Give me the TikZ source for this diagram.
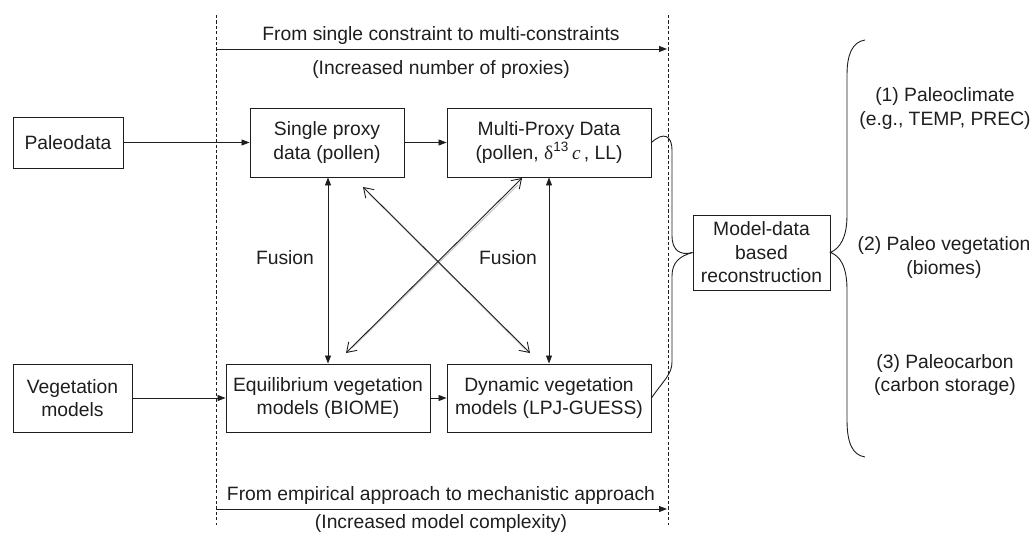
\documentclass[tikz,border=0pt]{standalone}
\usepackage{fontspec}
\setmainfont{Liberation Sans}
\newfontfamily\greekserif{Liberation Serif}
\usetikzlibrary{arrows.meta,calc}

\definecolor{ink}{HTML}{1E1E1E}
\definecolor{shade}{HTML}{C8C8C8}

\tikzset{
  box/.style={draw=ink, line width=0.9pt, align=center, inner sep=1pt,
    font=\fontsize{19.3}{23.5}\selectfont, text=ink},
  lbl/.style={align=center, inner sep=1pt, font=\fontsize{19.3}{23.5}\selectfont, text=ink},
  flow/.style={draw=ink, line width=0.8pt, -{Triangle[length=8pt,width=6pt]}},
  fuse/.style={draw=ink, line width=0.8pt,
    {Triangle[length=8pt,width=6pt]}-{Triangle[length=8pt,width=6pt]}},
  cross/.style={draw=ink, line width=0.9pt,
    {Straight Barb[length=9pt,width=12pt]}-{Straight Barb[length=9pt,width=12pt]}},
  crossshade/.style={draw=shade, line width=1.1pt},
  guide/.style={draw=ink, line width=0.8pt, dash pattern=on 3.2pt off 2.2pt},
  linkline/.style={draw=ink, line width=0.9pt},
}

\begin{document}
\begin{tikzpicture}[x=1pt,y=-1pt]
\useasboundingbox (0,0) rectangle (1033,534);

% vertical guide lines
\coordinate (gl1) at (216,15);
\coordinate (gl2) at (216,525);
\coordinate (gr1) at (668,15);
\coordinate (gr2) at (668,525);
\draw[guide] (gl1) -- (gl2);
\draw[guide] (gr1) -- (gr2);

% top trend arrow
\coordinate (ta) at (216,49);
\coordinate (tb) at (667,49);
\draw[flow] (ta) -- (tb);
\node[lbl] (ttop) at (441,36) {From single constraint to multi-constraints};
\node[lbl] (tsub) at (441,70) {(Increased number of proxies)};

% bottom trend arrow
\coordinate (ba) at (216,509);
\coordinate (bb) at (667,509);
\draw[flow] (ba) -- (bb);
\node[lbl] (btop) at (441,496) {From empirical approach to mechanistic approach};
\node[lbl] (bsub) at (441,524) {(Increased model complexity)};

% boxes
\node[box, minimum width=110pt, minimum height=51pt] (paleo) at (68,142.5) {Paleodata};
\node[box, minimum width=119pt, minimum height=68pt] (veg) at (72.5,398) {Vegetation\\models};
\node[box, minimum width=154pt, minimum height=69pt] (single) at (327,142.5) {Single proxy\\data (pollen)};
\node[box, minimum width=204pt, minimum height=69pt] (multi) at (549,142.5)
  {Multi-Proxy Data\\(pollen, {\greekserif δ}\textsuperscript{13}\,{\greekserif\itshape c}\,, LL)};
\node[box, minimum width=204pt, minimum height=68pt] (equil) at (328,398) {Equilibrium vegetation\\models (BIOME)};
\node[box, minimum width=204pt, minimum height=68pt] (dyn) at (549,398) {Dynamic vegetation\\models (LPJ-GUESS)};
\node[box, minimum width=137pt, minimum height=75pt] (recon) at (761.5,252.5) {Model-data\\based\\reconstruction};

% horizontal flows
\draw[flow] (paleo.east) -- (single.west);
\draw[flow] (veg.east) -- (equil.west);
\draw[flow] (single.east) -- (multi.west);
\draw[flow] (equil.east) -- (dyn.west);

% fusion links
\draw[fuse] (single.south -| 328,0) -- (equil.north -| 328,0);
\draw[fuse] (multi.south) -- (dyn.north);
\node[lbl] (fus1) at (285,258) {Fusion};
\node[lbl] (fus2) at (508,258) {Fusion};

% diagonal cross links
\coordinate (d1a) at (363,187);
\coordinate (d1b) at (530,353);
\coordinate (d2a) at (522,178);
\coordinate (d2b) at (346,353);
\draw[crossshade] ($(d1a)+(6,6.5)$) -- ($(d1b)+(-5,-4)$);
\draw[crossshade] ($(d2a)+(-4,7)$) -- ($(d2b)+(6,-5)$);
\draw[cross] (d1a) -- (d1b);
\draw[cross] (d2a) -- (d2b);

% links into the reconstruction box
\draw[linkline] (multi.east) .. controls (664,131) and (672,136) .. (672,150)
  -- (672,236) .. controls (672,250) and (680,256) .. (recon.west);
\draw[linkline] (dyn.east) .. controls (664,380) and (672,374) .. (672,362)
  -- (672,276) .. controls (672,262) and (680,256) .. (recon.west);

% brace towards the outcomes
\coordinate (br1) at (865,40);
\coordinate (br2) at (865,457);
\draw[linkline] (br1) .. controls (852,42) and (847,55) .. (847,75)
  -- (847,215) .. controls (847,238) and (840,248) .. (recon.east)
  .. controls (840,256) and (847,266) .. (847,290)
  -- (847,420) .. controls (847,442) and (852,455) .. (br2);

% outcomes
\node[lbl] (out1) at (945,108.5) {(1) Paleoclimate\\(e.g., TEMP, PREC)};
\node[lbl] (out2) at (944,257.5) {(2) Paleo vegetation\\(biomes)};
\node[lbl] (out3) at (945,375) {(3) Paleocarbon\\(carbon storage)};
\end{tikzpicture}
\end{document}
